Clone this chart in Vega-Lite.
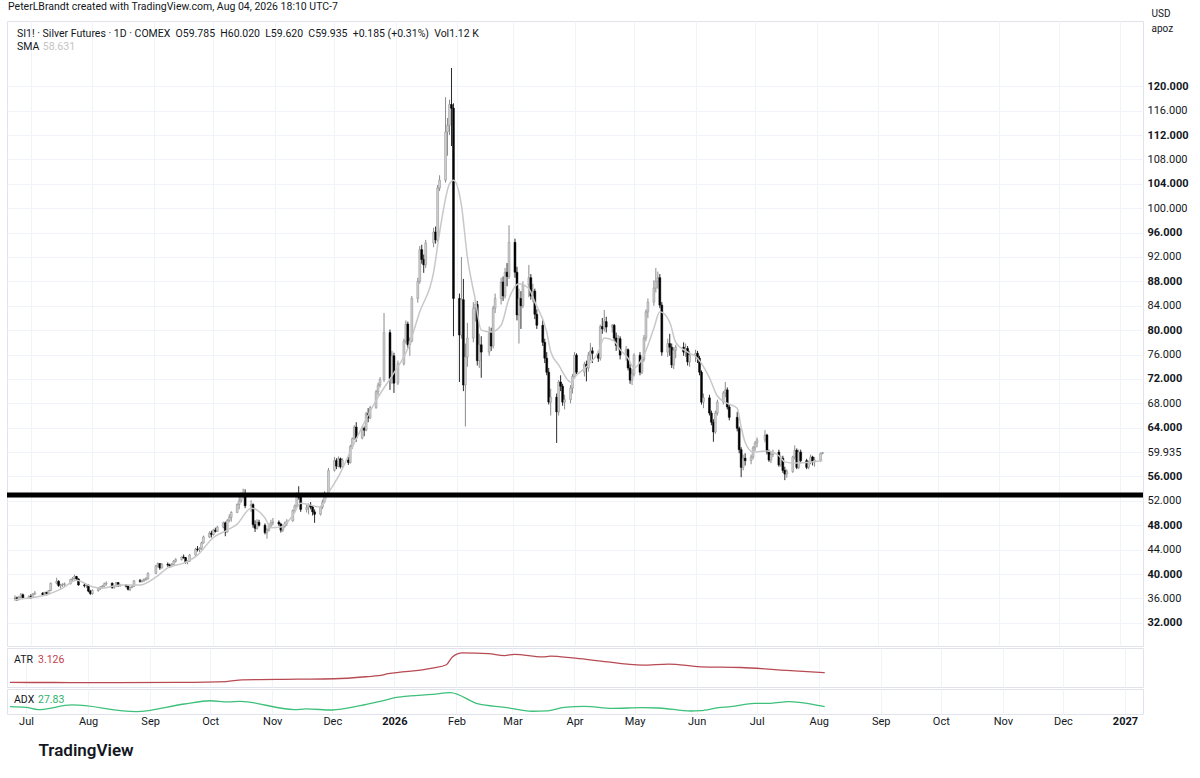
{
  "$schema": "https://vega.github.io/schema/vega-lite/v6.json",
  "background": "white",
  "padding": {"left": 4, "top": 2, "right": 0, "bottom": 0},
  "title": {
    "text": "PeterLBrandt created with TradingView.com, Aug 04, 2026 18:10 UTC-7",
    "anchor": "start",
    "fontSize": 10.5,
    "fontWeight": "normal",
    "color": "#131722",
    "offset": -5,
    "dx": 4
  },
  "datasets": {
    "candles": [
      {"d":"2025-06-23","o":36.0,"h":36.5,"l":35.6,"c":36.1},
      {"d":"2025-06-24","o":36.1,"h":36.3,"l":35.6,"c":35.8},
      {"d":"2025-06-25","o":35.8,"h":36.4,"l":35.7,"c":36.2},
      {"d":"2025-06-26","o":36.2,"h":36.9,"l":36.0,"c":36.6},
      {"d":"2025-06-27","o":36.6,"h":36.8,"l":35.9,"c":36.1},
      {"d":"2025-06-30","o":36.1,"h":36.5,"l":35.9,"c":36.3},
      {"d":"2025-07-01","o":36.3,"h":36.7,"l":35.9,"c":36.2},
      {"d":"2025-07-02","o":36.2,"h":36.9,"l":36.1,"c":36.7},
      {"d":"2025-07-03","o":36.7,"h":37.2,"l":36.6,"c":36.9},
      {"d":"2025-07-07","o":36.9,"h":37.0,"l":36.4,"c":36.6},
      {"d":"2025-07-08","o":36.6,"h":37.1,"l":36.5,"c":37.0},
      {"d":"2025-07-09","o":37.0,"h":37.1,"l":36.5,"c":36.8},
      {"d":"2025-07-10","o":36.8,"h":37.4,"l":36.7,"c":37.3},
      {"d":"2025-07-11","o":37.3,"h":38.6,"l":37.2,"c":38.5},
      {"d":"2025-07-14","o":38.5,"h":39.4,"l":38.3,"c":38.8},
      {"d":"2025-07-15","o":38.8,"h":39.0,"l":37.9,"c":38.1},
      {"d":"2025-07-16","o":38.1,"h":38.4,"l":37.6,"c":38.2},
      {"d":"2025-07-17","o":38.2,"h":38.5,"l":37.9,"c":38.3},
      {"d":"2025-07-18","o":38.3,"h":38.6,"l":38.0,"c":38.4},
      {"d":"2025-07-21","o":38.4,"h":39.2,"l":38.3,"c":39.1},
      {"d":"2025-07-22","o":39.1,"h":39.5,"l":38.9,"c":39.3},
      {"d":"2025-07-23","o":39.3,"h":39.9,"l":39.1,"c":39.6},
      {"d":"2025-07-24","o":39.6,"h":39.7,"l":38.9,"c":39.2},
      {"d":"2025-07-25","o":39.2,"h":39.3,"l":38.1,"c":38.2},
      {"d":"2025-07-28","o":38.2,"h":38.5,"l":37.8,"c":38.1},
      {"d":"2025-07-29","o":38.1,"h":38.4,"l":37.7,"c":38.2},
      {"d":"2025-07-30","o":38.2,"h":38.3,"l":37.0,"c":37.2},
      {"d":"2025-07-31","o":37.2,"h":37.4,"l":36.6,"c":36.8},
      {"d":"2025-08-01","o":36.8,"h":37.5,"l":36.6,"c":37.3},
      {"d":"2025-08-04","o":37.3,"h":37.7,"l":37.1,"c":37.6},
      {"d":"2025-08-05","o":37.6,"h":38.0,"l":37.4,"c":37.9},
      {"d":"2025-08-06","o":37.9,"h":38.2,"l":37.6,"c":38.0},
      {"d":"2025-08-07","o":38.0,"h":38.6,"l":37.9,"c":38.4},
      {"d":"2025-08-08","o":38.4,"h":38.8,"l":38.1,"c":38.5},
      {"d":"2025-08-11","o":38.5,"h":38.6,"l":37.6,"c":37.8},
      {"d":"2025-08-12","o":37.8,"h":38.1,"l":37.6,"c":38.0},
      {"d":"2025-08-13","o":38.0,"h":38.7,"l":37.9,"c":38.6},
      {"d":"2025-08-14","o":38.6,"h":38.7,"l":37.9,"c":38.1},
      {"d":"2025-08-15","o":38.1,"h":38.4,"l":37.9,"c":38.2},
      {"d":"2025-08-18","o":38.2,"h":38.3,"l":37.8,"c":38.0},
      {"d":"2025-08-19","o":38.0,"h":38.1,"l":37.3,"c":37.5},
      {"d":"2025-08-20","o":37.5,"h":37.9,"l":37.2,"c":37.8},
      {"d":"2025-08-21","o":37.8,"h":38.2,"l":37.7,"c":38.0},
      {"d":"2025-08-22","o":38.0,"h":39.0,"l":37.9,"c":38.9},
      {"d":"2025-08-25","o":38.9,"h":39.2,"l":38.6,"c":38.8},
      {"d":"2025-08-26","o":38.8,"h":39.1,"l":38.6,"c":38.9},
      {"d":"2025-08-27","o":38.9,"h":39.3,"l":38.7,"c":39.1},
      {"d":"2025-08-28","o":39.1,"h":39.5,"l":38.9,"c":39.2},
      {"d":"2025-08-29","o":39.2,"h":40.3,"l":39.1,"c":40.1},
      {"d":"2025-09-02","o":40.1,"h":41.5,"l":40.0,"c":41.3},
      {"d":"2025-09-03","o":41.3,"h":41.9,"l":41.1,"c":41.7},
      {"d":"2025-09-04","o":41.7,"h":41.8,"l":40.7,"c":41.0},
      {"d":"2025-09-05","o":41.0,"h":41.8,"l":40.9,"c":41.6},
      {"d":"2025-09-08","o":41.6,"h":41.9,"l":41.2,"c":41.5},
      {"d":"2025-09-09","o":41.5,"h":41.7,"l":41.0,"c":41.3},
      {"d":"2025-09-10","o":41.3,"h":41.8,"l":41.1,"c":41.6},
      {"d":"2025-09-11","o":41.6,"h":42.3,"l":41.4,"c":42.1},
      {"d":"2025-09-12","o":42.1,"h":42.6,"l":41.9,"c":42.4},
      {"d":"2025-09-15","o":42.4,"h":42.9,"l":42.2,"c":42.8},
      {"d":"2025-09-16","o":42.8,"h":43.2,"l":42.5,"c":42.7},
      {"d":"2025-09-17","o":42.7,"h":42.8,"l":41.7,"c":42.0},
      {"d":"2025-09-18","o":42.0,"h":42.3,"l":41.6,"c":42.1},
      {"d":"2025-09-19","o":42.1,"h":43.3,"l":42.0,"c":43.1},
      {"d":"2025-09-22","o":43.1,"h":44.3,"l":43.0,"c":44.1},
      {"d":"2025-09-23","o":44.1,"h":44.6,"l":43.7,"c":44.0},
      {"d":"2025-09-24","o":44.0,"h":44.4,"l":43.6,"c":44.2},
      {"d":"2025-09-25","o":44.2,"h":45.3,"l":44.0,"c":45.1},
      {"d":"2025-09-26","o":45.1,"h":46.3,"l":45.0,"c":46.1},
      {"d":"2025-09-29","o":46.1,"h":47.0,"l":45.9,"c":46.7},
      {"d":"2025-09-30","o":46.7,"h":47.1,"l":46.0,"c":46.5},
      {"d":"2025-10-01","o":46.5,"h":47.4,"l":46.3,"c":47.2},
      {"d":"2025-10-02","o":47.2,"h":47.6,"l":46.8,"c":47.0},
      {"d":"2025-10-03","o":47.0,"h":47.9,"l":46.9,"c":47.7},
      {"d":"2025-10-06","o":47.7,"h":48.6,"l":47.5,"c":48.4},
      {"d":"2025-10-07","o":48.4,"h":48.6,"l":46.2,"c":46.9},
      {"d":"2025-10-08","o":46.9,"h":49.0,"l":46.8,"c":48.8},
      {"d":"2025-10-09","o":48.8,"h":49.8,"l":48.5,"c":49.3},
      {"d":"2025-10-10","o":49.3,"h":50.3,"l":48.6,"c":50.1},
      {"d":"2025-10-13","o":50.1,"h":51.6,"l":50.0,"c":51.4},
      {"d":"2025-10-14","o":51.4,"h":52.9,"l":50.6,"c":52.0},
      {"d":"2025-10-15","o":52.0,"h":53.4,"l":51.7,"c":52.9},
      {"d":"2025-10-16","o":52.9,"h":54.0,"l":52.4,"c":53.2},
      {"d":"2025-10-17","o":53.2,"h":53.9,"l":50.8,"c":51.2},
      {"d":"2025-10-20","o":51.2,"h":52.1,"l":50.2,"c":51.4},
      {"d":"2025-10-21","o":51.4,"h":51.6,"l":47.6,"c":48.1},
      {"d":"2025-10-22","o":48.1,"h":48.8,"l":46.9,"c":47.5},
      {"d":"2025-10-23","o":47.5,"h":49.0,"l":47.3,"c":48.5},
      {"d":"2025-10-24","o":48.5,"h":48.9,"l":47.8,"c":48.0},
      {"d":"2025-10-27","o":48.0,"h":48.3,"l":46.5,"c":46.8},
      {"d":"2025-10-28","o":46.8,"h":47.5,"l":45.8,"c":47.2},
      {"d":"2025-10-29","o":47.2,"h":48.3,"l":47.0,"c":47.9},
      {"d":"2025-10-30","o":47.9,"h":48.9,"l":47.6,"c":48.4},
      {"d":"2025-10-31","o":48.4,"h":49.2,"l":48.0,"c":48.5},
      {"d":"2025-11-03","o":48.5,"h":48.8,"l":47.9,"c":48.2},
      {"d":"2025-11-04","o":48.2,"h":48.4,"l":46.8,"c":47.2},
      {"d":"2025-11-05","o":47.2,"h":48.1,"l":46.9,"c":47.8},
      {"d":"2025-11-06","o":47.8,"h":48.6,"l":47.6,"c":48.3},
      {"d":"2025-11-07","o":48.3,"h":49.0,"l":47.9,"c":48.7},
      {"d":"2025-11-10","o":48.7,"h":50.6,"l":48.6,"c":50.4},
      {"d":"2025-11-11","o":50.4,"h":51.4,"l":50.1,"c":51.2},
      {"d":"2025-11-12","o":51.2,"h":53.4,"l":51.0,"c":53.1},
      {"d":"2025-11-13","o":53.1,"h":54.4,"l":52.2,"c":52.6},
      {"d":"2025-11-14","o":52.6,"h":52.9,"l":50.2,"c":50.6},
      {"d":"2025-11-17","o":50.6,"h":51.4,"l":50.1,"c":50.9},
      {"d":"2025-11-18","o":50.9,"h":51.6,"l":49.8,"c":51.3},
      {"d":"2025-11-19","o":51.3,"h":51.8,"l":50.6,"c":51.0},
      {"d":"2025-11-20","o":51.0,"h":51.3,"l":49.6,"c":50.2},
      {"d":"2025-11-21","o":50.2,"h":50.6,"l":48.4,"c":49.8},
      {"d":"2025-11-24","o":49.8,"h":51.2,"l":49.6,"c":51.0},
      {"d":"2025-11-25","o":51.0,"h":52.2,"l":50.7,"c":51.8},
      {"d":"2025-11-26","o":51.8,"h":53.6,"l":51.6,"c":53.3},
      {"d":"2025-11-28","o":53.3,"h":57.4,"l":53.1,"c":57.0},
      {"d":"2025-12-01","o":57.0,"h":59.2,"l":56.8,"c":58.6},
      {"d":"2025-12-02","o":58.6,"h":59.0,"l":57.2,"c":57.7},
      {"d":"2025-12-03","o":57.7,"h":59.3,"l":57.5,"c":58.9},
      {"d":"2025-12-04","o":58.9,"h":59.1,"l":57.3,"c":57.6},
      {"d":"2025-12-05","o":57.6,"h":59.0,"l":57.4,"c":58.7},
      {"d":"2025-12-08","o":58.7,"h":59.2,"l":57.9,"c":58.3},
      {"d":"2025-12-09","o":58.3,"h":61.2,"l":58.1,"c":60.9},
      {"d":"2025-12-10","o":60.9,"h":62.4,"l":60.5,"c":62.2},
      {"d":"2025-12-11","o":62.2,"h":64.4,"l":62.0,"c":64.1},
      {"d":"2025-12-12","o":64.1,"h":64.9,"l":61.7,"c":62.3},
      {"d":"2025-12-15","o":62.3,"h":64.3,"l":62.1,"c":63.9},
      {"d":"2025-12-16","o":63.9,"h":64.2,"l":62.6,"c":63.6},
      {"d":"2025-12-17","o":63.6,"h":66.6,"l":63.4,"c":66.3},
      {"d":"2025-12-18","o":66.3,"h":67.2,"l":64.9,"c":65.6},
      {"d":"2025-12-19","o":65.6,"h":67.6,"l":65.4,"c":67.3},
      {"d":"2025-12-22","o":67.3,"h":70.2,"l":67.1,"c":69.9},
      {"d":"2025-12-23","o":69.9,"h":71.4,"l":69.3,"c":71.0},
      {"d":"2025-12-24","o":71.0,"h":72.3,"l":70.6,"c":71.9},
      {"d":"2025-12-26","o":71.9,"h":82.8,"l":71.5,"c":79.6},
      {"d":"2025-12-29","o":79.6,"h":80.1,"l":70.2,"c":72.0},
      {"d":"2025-12-30","o":72.0,"h":76.6,"l":71.2,"c":75.8},
      {"d":"2025-12-31","o":75.8,"h":76.3,"l":69.7,"c":71.3},
      {"d":"2026-01-02","o":71.3,"h":75.0,"l":71.0,"c":74.5},
      {"d":"2026-01-05","o":74.5,"h":78.6,"l":74.2,"c":78.2},
      {"d":"2026-01-06","o":78.2,"h":81.6,"l":77.8,"c":81.0},
      {"d":"2026-01-07","o":81.0,"h":81.4,"l":77.0,"c":77.6},
      {"d":"2026-01-08","o":77.6,"h":78.8,"l":75.8,"c":78.2},
      {"d":"2026-01-09","o":78.2,"h":85.6,"l":78.0,"c":85.2},
      {"d":"2026-01-12","o":85.2,"h":88.6,"l":84.5,"c":88.0},
      {"d":"2026-01-13","o":88.0,"h":93.8,"l":87.6,"c":93.2},
      {"d":"2026-01-14","o":93.2,"h":94.0,"l":90.9,"c":91.6},
      {"d":"2026-01-15","o":91.6,"h":92.4,"l":89.4,"c":90.7},
      {"d":"2026-01-16","o":90.7,"h":94.8,"l":90.2,"c":94.3},
      {"d":"2026-01-20","o":94.3,"h":96.8,"l":93.6,"c":96.1},
      {"d":"2026-01-21","o":96.1,"h":97.0,"l":94.2,"c":94.8},
      {"d":"2026-01-22","o":94.8,"h":103.8,"l":94.5,"c":103.3},
      {"d":"2026-01-23","o":103.3,"h":105.4,"l":102.8,"c":104.6},
      {"d":"2026-01-26","o":104.6,"h":118.2,"l":104.2,"c":112.5},
      {"d":"2026-01-27","o":112.5,"h":114.8,"l":108.6,"c":113.6},
      {"d":"2026-01-28","o":113.6,"h":117.8,"l":112.0,"c":117.0},
      {"d":"2026-01-29","o":117.0,"h":123.0,"l":110.2,"c":116.4},
      {"d":"2026-01-30","o":116.4,"h":117.2,"l":79.0,"c":85.2},
      {"d":"2026-02-02","o":85.2,"h":86.0,"l":71.5,"c":79.2},
      {"d":"2026-02-03","o":79.2,"h":92.0,"l":78.6,"c":85.0},
      {"d":"2026-02-04","o":85.0,"h":88.4,"l":70.0,"c":71.0},
      {"d":"2026-02-05","o":71.0,"h":77.8,"l":64.2,"c":75.6},
      {"d":"2026-02-06","o":75.6,"h":81.2,"l":74.0,"c":78.7},
      {"d":"2026-02-09","o":78.7,"h":84.6,"l":78.0,"c":83.6},
      {"d":"2026-02-10","o":83.6,"h":85.0,"l":81.4,"c":84.2},
      {"d":"2026-02-11","o":84.2,"h":84.8,"l":74.2,"c":75.0},
      {"d":"2026-02-12","o":75.0,"h":79.4,"l":73.8,"c":77.6},
      {"d":"2026-02-13","o":77.6,"h":79.0,"l":72.2,"c":76.4},
      {"d":"2026-02-17","o":76.4,"h":80.6,"l":75.8,"c":79.6},
      {"d":"2026-02-18","o":79.6,"h":80.4,"l":76.6,"c":77.4},
      {"d":"2026-02-19","o":77.4,"h":84.0,"l":77.0,"c":83.6},
      {"d":"2026-02-20","o":83.6,"h":86.0,"l":82.8,"c":85.2},
      {"d":"2026-02-23","o":85.2,"h":88.6,"l":84.2,"c":87.9},
      {"d":"2026-02-24","o":87.9,"h":88.8,"l":84.8,"c":85.6},
      {"d":"2026-02-25","o":85.6,"h":90.2,"l":85.2,"c":89.5},
      {"d":"2026-02-26","o":89.5,"h":91.0,"l":87.2,"c":88.8},
      {"d":"2026-02-27","o":88.8,"h":97.2,"l":88.4,"c":94.4},
      {"d":"2026-03-02","o":94.4,"h":95.0,"l":88.6,"c":89.5},
      {"d":"2026-03-03","o":89.5,"h":90.4,"l":81.6,"c":82.5},
      {"d":"2026-03-04","o":82.5,"h":86.8,"l":77.8,"c":85.2},
      {"d":"2026-03-05","o":85.2,"h":86.4,"l":80.2,"c":84.0},
      {"d":"2026-03-06","o":84.0,"h":88.0,"l":83.6,"c":87.4},
      {"d":"2026-03-09","o":87.4,"h":90.7,"l":85.4,"c":88.6},
      {"d":"2026-03-10","o":88.6,"h":89.2,"l":85.0,"c":85.6},
      {"d":"2026-03-11","o":85.6,"h":87.6,"l":84.6,"c":86.4},
      {"d":"2026-03-12","o":86.4,"h":86.8,"l":81.8,"c":82.6},
      {"d":"2026-03-13","o":82.6,"h":83.4,"l":80.2,"c":80.8},
      {"d":"2026-03-16","o":80.8,"h":81.6,"l":77.4,"c":78.0},
      {"d":"2026-03-17","o":78.0,"h":78.6,"l":74.6,"c":75.4},
      {"d":"2026-03-18","o":75.4,"h":76.4,"l":72.6,"c":73.1},
      {"d":"2026-03-19","o":73.1,"h":73.8,"l":67.8,"c":68.2},
      {"d":"2026-03-20","o":68.2,"h":70.4,"l":66.0,"c":69.0},
      {"d":"2026-03-23","o":69.0,"h":69.6,"l":61.5,"c":66.6},
      {"d":"2026-03-24","o":66.6,"h":71.8,"l":66.0,"c":71.5},
      {"d":"2026-03-25","o":71.5,"h":72.6,"l":70.0,"c":70.8},
      {"d":"2026-03-26","o":70.8,"h":71.2,"l":67.6,"c":68.2},
      {"d":"2026-03-27","o":68.2,"h":69.4,"l":67.0,"c":68.6},
      {"d":"2026-03-30","o":68.6,"h":71.0,"l":68.0,"c":70.5},
      {"d":"2026-03-31","o":70.5,"h":72.8,"l":69.6,"c":72.4},
      {"d":"2026-04-01","o":72.4,"h":76.4,"l":72.0,"c":75.9},
      {"d":"2026-04-02","o":75.9,"h":76.2,"l":72.8,"c":73.1},
      {"d":"2026-04-06","o":73.1,"h":74.8,"l":72.4,"c":74.4},
      {"d":"2026-04-07","o":74.4,"h":75.0,"l":71.6,"c":73.8},
      {"d":"2026-04-08","o":73.8,"h":76.4,"l":73.2,"c":75.9},
      {"d":"2026-04-09","o":75.9,"h":77.9,"l":75.0,"c":76.6},
      {"d":"2026-04-10","o":76.6,"h":77.2,"l":74.6,"c":76.2},
      {"d":"2026-04-13","o":76.2,"h":76.6,"l":74.8,"c":75.4},
      {"d":"2026-04-14","o":75.4,"h":80.9,"l":75.0,"c":80.6},
      {"d":"2026-04-15","o":80.6,"h":82.0,"l":79.4,"c":80.2},
      {"d":"2026-04-16","o":80.2,"h":83.3,"l":79.8,"c":81.4},
      {"d":"2026-04-17","o":81.4,"h":82.2,"l":79.6,"c":80.5},
      {"d":"2026-04-20","o":80.5,"h":81.0,"l":79.6,"c":80.8},
      {"d":"2026-04-21","o":80.8,"h":81.0,"l":78.2,"c":78.7},
      {"d":"2026-04-22","o":78.7,"h":79.6,"l":76.6,"c":77.5},
      {"d":"2026-04-23","o":77.5,"h":79.2,"l":76.8,"c":78.6},
      {"d":"2026-04-24","o":78.6,"h":79.0,"l":75.2,"c":75.9},
      {"d":"2026-04-27","o":75.9,"h":77.4,"l":75.0,"c":76.8},
      {"d":"2026-04-28","o":76.8,"h":77.0,"l":73.4,"c":73.8},
      {"d":"2026-04-29","o":73.8,"h":74.4,"l":71.2,"c":71.8},
      {"d":"2026-04-30","o":71.8,"h":73.6,"l":71.0,"c":72.8},
      {"d":"2026-05-01","o":72.8,"h":76.2,"l":72.4,"c":75.9},
      {"d":"2026-05-04","o":75.9,"h":76.4,"l":72.6,"c":73.1},
      {"d":"2026-05-05","o":73.1,"h":75.6,"l":72.8,"c":75.2},
      {"d":"2026-05-06","o":75.2,"h":79.2,"l":74.8,"c":78.7},
      {"d":"2026-05-07","o":78.7,"h":83.4,"l":78.2,"c":83.0},
      {"d":"2026-05-08","o":83.0,"h":85.2,"l":82.0,"c":84.6},
      {"d":"2026-05-11","o":84.6,"h":88.2,"l":84.0,"c":86.9},
      {"d":"2026-05-12","o":86.9,"h":90.2,"l":86.2,"c":88.0},
      {"d":"2026-05-13","o":88.0,"h":89.6,"l":86.8,"c":88.6},
      {"d":"2026-05-14","o":88.6,"h":89.2,"l":83.6,"c":84.1},
      {"d":"2026-05-15","o":84.1,"h":84.6,"l":75.8,"c":76.4},
      {"d":"2026-05-18","o":76.4,"h":78.6,"l":75.6,"c":77.8},
      {"d":"2026-05-19","o":77.8,"h":79.4,"l":75.8,"c":77.2},
      {"d":"2026-05-20","o":77.2,"h":77.8,"l":73.8,"c":74.3},
      {"d":"2026-05-21","o":74.3,"h":77.2,"l":73.6,"c":76.7},
      {"d":"2026-05-22","o":76.7,"h":77.6,"l":75.4,"c":77.2},
      {"d":"2026-05-26","o":77.2,"h":78.0,"l":75.8,"c":76.4},
      {"d":"2026-05-27","o":76.4,"h":77.8,"l":75.6,"c":77.0},
      {"d":"2026-05-28","o":77.0,"h":77.4,"l":74.2,"c":74.8},
      {"d":"2026-05-29","o":74.8,"h":76.6,"l":74.0,"c":75.9},
      {"d":"2026-06-01","o":75.9,"h":76.8,"l":74.8,"c":76.2},
      {"d":"2026-06-02","o":76.2,"h":76.6,"l":74.6,"c":75.4},
      {"d":"2026-06-03","o":75.4,"h":75.8,"l":72.6,"c":73.1},
      {"d":"2026-06-04","o":73.1,"h":73.4,"l":67.8,"c":68.2},
      {"d":"2026-06-05","o":68.2,"h":69.6,"l":67.2,"c":68.9},
      {"d":"2026-06-08","o":68.9,"h":69.4,"l":66.0,"c":66.4},
      {"d":"2026-06-09","o":66.4,"h":66.8,"l":64.4,"c":64.9},
      {"d":"2026-06-10","o":64.9,"h":65.4,"l":61.7,"c":63.3},
      {"d":"2026-06-11","o":63.3,"h":66.8,"l":63.0,"c":66.4},
      {"d":"2026-06-12","o":66.4,"h":68.6,"l":66.0,"c":68.2},
      {"d":"2026-06-15","o":68.2,"h":70.0,"l":67.8,"c":69.7},
      {"d":"2026-06-16","o":69.7,"h":71.5,"l":69.0,"c":70.2},
      {"d":"2026-06-17","o":70.2,"h":70.6,"l":67.0,"c":67.4},
      {"d":"2026-06-18","o":67.4,"h":67.8,"l":65.2,"c":65.7},
      {"d":"2026-06-22","o":65.7,"h":66.6,"l":63.4,"c":63.9},
      {"d":"2026-06-23","o":63.9,"h":64.2,"l":59.8,"c":60.4},
      {"d":"2026-06-24","o":60.4,"h":60.8,"l":55.9,"c":57.5},
      {"d":"2026-06-25","o":57.5,"h":59.6,"l":57.0,"c":59.0},
      {"d":"2026-06-26","o":59.0,"h":59.8,"l":57.8,"c":58.6},
      {"d":"2026-06-29","o":58.6,"h":59.6,"l":58.0,"c":59.2},
      {"d":"2026-06-30","o":59.2,"h":61.0,"l":58.8,"c":60.7},
      {"d":"2026-07-01","o":60.7,"h":61.8,"l":60.2,"c":61.5},
      {"d":"2026-07-02","o":61.5,"h":62.4,"l":60.8,"c":62.0},
      {"d":"2026-07-06","o":62.0,"h":63.6,"l":61.6,"c":62.8},
      {"d":"2026-07-07","o":62.8,"h":63.0,"l":59.6,"c":60.0},
      {"d":"2026-07-08","o":60.0,"h":60.4,"l":58.4,"c":58.7},
      {"d":"2026-07-09","o":58.7,"h":60.2,"l":58.2,"c":59.6},
      {"d":"2026-07-10","o":59.6,"h":60.4,"l":59.2,"c":60.0},
      {"d":"2026-07-13","o":60.0,"h":60.4,"l":57.6,"c":57.9},
      {"d":"2026-07-14","o":57.9,"h":59.4,"l":57.6,"c":59.0},
      {"d":"2026-07-15","o":59.0,"h":59.4,"l":56.6,"c":57.0},
      {"d":"2026-07-16","o":57.0,"h":57.6,"l":55.4,"c":56.4},
      {"d":"2026-07-17","o":56.4,"h":57.2,"l":55.8,"c":56.8},
      {"d":"2026-07-20","o":56.8,"h":59.4,"l":56.6,"c":59.2},
      {"d":"2026-07-21","o":59.2,"h":61.1,"l":58.8,"c":60.3},
      {"d":"2026-07-22","o":60.3,"h":60.6,"l":57.2,"c":57.5},
      {"d":"2026-07-23","o":57.5,"h":60.4,"l":57.2,"c":60.0},
      {"d":"2026-07-24","o":60.0,"h":60.4,"l":58.2,"c":58.6},
      {"d":"2026-07-27","o":58.6,"h":58.9,"l":57.2,"c":57.5},
      {"d":"2026-07-28","o":57.5,"h":58.6,"l":57.2,"c":58.3},
      {"d":"2026-07-29","o":58.3,"h":59.6,"l":58.0,"c":59.2},
      {"d":"2026-07-30","o":59.2,"h":59.4,"l":57.8,"c":58.4},
      {"d":"2026-07-31","o":58.4,"h":59.2,"l":57.6,"c":58.7},
      {"d":"2026-08-03","o":58.7,"h":59.9,"l":58.4,"c":59.78},
      {"d":"2026-08-04","o":59.785,"h":60.02,"l":59.62,"c":59.935}
    ],
    "sma": [
      {"d":"2025-06-23","v":35.8},{"d":"2025-07-01","v":36.1},{"d":"2025-07-09","v":36.6},
      {"d":"2025-07-17","v":37.7},{"d":"2025-07-24","v":39.0},{"d":"2025-08-01","v":37.9},
      {"d":"2025-08-06","v":37.7},{"d":"2025-08-15","v":38.2},{"d":"2025-08-25","v":38.2},
      {"d":"2025-09-02","v":39.5},{"d":"2025-09-08","v":41.0},{"d":"2025-09-16","v":41.8},
      {"d":"2025-09-23","v":43.1},{"d":"2025-10-01","v":46.0},{"d":"2025-10-08","v":47.2},
      {"d":"2025-10-13","v":48.2},{"d":"2025-10-20","v":50.8},{"d":"2025-10-27","v":49.2},
      {"d":"2025-10-30","v":47.6},{"d":"2025-11-04","v":47.7},{"d":"2025-11-10","v":49.6},
      {"d":"2025-11-14","v":51.6},{"d":"2025-11-24","v":51.0},{"d":"2025-11-28","v":53.3},
      {"d":"2025-12-04","v":56.6},{"d":"2025-12-10","v":60.8},{"d":"2025-12-16","v":64.8},
      {"d":"2025-12-23","v":69.0},{"d":"2025-12-31","v":73.0},{"d":"2026-01-07","v":77.0},
      {"d":"2026-01-13","v":83.0},{"d":"2026-01-20","v":89.5},{"d":"2026-01-23","v":96.0},
      {"d":"2026-01-28","v":104.0},{"d":"2026-01-30","v":104.6},{"d":"2026-02-03","v":100.5},
      {"d":"2026-02-06","v":92.0},{"d":"2026-02-10","v":85.0},{"d":"2026-02-13","v":80.0},
      {"d":"2026-02-18","v":79.7},{"d":"2026-02-23","v":80.8},{"d":"2026-02-27","v":85.2},
      {"d":"2026-03-04","v":87.6},{"d":"2026-03-09","v":86.8},{"d":"2026-03-12","v":84.6},
      {"d":"2026-03-18","v":79.7},{"d":"2026-03-20","v":76.5},{"d":"2026-03-24","v":74.3},
      {"d":"2026-03-30","v":71.5},{"d":"2026-04-02","v":72.6},{"d":"2026-04-08","v":74.3},
      {"d":"2026-04-13","v":76.4},{"d":"2026-04-16","v":78.7},{"d":"2026-04-21","v":78.2},
      {"d":"2026-04-24","v":76.8},{"d":"2026-04-28","v":75.4},{"d":"2026-05-01","v":73.8},
      {"d":"2026-05-06","v":75.9},{"d":"2026-05-11","v":80.3},{"d":"2026-05-14","v":83.0},
      {"d":"2026-05-19","v":81.3},{"d":"2026-05-22","v":78.0},{"d":"2026-05-28","v":76.4},
      {"d":"2026-06-02","v":75.4},{"d":"2026-06-08","v":72.2},{"d":"2026-06-12","v":69.2},
      {"d":"2026-06-17","v":68.0},{"d":"2026-06-22","v":67.2},{"d":"2026-06-24","v":64.1},
      {"d":"2026-06-26","v":61.6},{"d":"2026-06-30","v":60.0},{"d":"2026-07-07","v":60.2},
      {"d":"2026-07-13","v":59.4},{"d":"2026-07-16","v":58.4},{"d":"2026-07-21","v":58.2},
      {"d":"2026-07-27","v":58.3},{"d":"2026-08-04","v":58.63}
    ],
    "atr": [
      {"d":"2025-06-23","v":0.78},{"d":"2025-07-15","v":0.76},{"d":"2025-08-15","v":0.74},
      {"d":"2025-09-15","v":0.8},{"d":"2025-10-09","v":0.99},{"d":"2025-10-17","v":1.41},
      {"d":"2025-11-14","v":1.55},{"d":"2025-12-02","v":1.66},{"d":"2025-12-19","v":2.19},
      {"d":"2025-12-24","v":2.4},{"d":"2025-12-29","v":2.86},{"d":"2026-01-20","v":4.2},
      {"d":"2026-01-27","v":5.01},{"d":"2026-01-30","v":6.88},{"d":"2026-02-04","v":7.83},
      {"d":"2026-02-17","v":7.66},{"d":"2026-02-25","v":7.19},{"d":"2026-03-02","v":7.51},
      {"d":"2026-03-16","v":6.88},{"d":"2026-03-20","v":7.05},{"d":"2026-03-31","v":6.63},
      {"d":"2026-04-13","v":5.95},{"d":"2026-05-05","v":4.92},{"d":"2026-05-18","v":5.16},
      {"d":"2026-06-03","v":4.52},{"d":"2026-06-23","v":4.35},{"d":"2026-07-20","v":3.54},
      {"d":"2026-08-04","v":3.126}
    ],
    "adx": [
      {"d":"2025-06-23","v":28.0},{"d":"2025-07-01","v":27.0},{"d":"2025-07-07","v":23.7},
      {"d":"2025-07-24","v":30.3},{"d":"2025-08-25","v":20.8},{"d":"2025-09-18","v":31.7},
      {"d":"2025-10-01","v":36.3},{"d":"2025-10-10","v":34.8},{"d":"2025-10-16","v":35.4},
      {"d":"2025-11-12","v":23.7},{"d":"2025-11-18","v":24.6},{"d":"2025-12-01","v":23.1},
      {"d":"2025-12-15","v":29.3},{"d":"2025-12-26","v":36.3},{"d":"2026-01-02","v":41.0},
      {"d":"2026-01-09","v":43.3},{"d":"2026-01-20","v":45.3},{"d":"2026-01-29","v":48.0},
      {"d":"2026-02-12","v":31.7},{"d":"2026-02-25","v":27.0},{"d":"2026-03-11","v":21.3},
      {"d":"2026-03-18","v":21.8},{"d":"2026-03-27","v":27.0},{"d":"2026-04-06","v":28.4},
      {"d":"2026-04-20","v":25.5},{"d":"2026-05-05","v":26.4},{"d":"2026-05-13","v":26.0},
      {"d":"2026-05-29","v":21.7},{"d":"2026-06-03","v":22.1},{"d":"2026-06-12","v":26.4},
      {"d":"2026-06-18","v":27.8},{"d":"2026-06-30","v":32.7},{"d":"2026-07-08","v":32.7},
      {"d":"2026-07-17","v":35.0},{"d":"2026-07-29","v":31.3},{"d":"2026-08-04","v":27.83}
    ],
    "support": [{"level": 52.95}]
  },
  "spacing": 0,
  "vconcat": [
    {
      "width": 1136,
      "height": 625,
      "layer": [
        {
          "data": {"name": "candles"},
          "mark": {"type": "rule", "strokeWidth": 1},
          "encoding": {
            "x": {
              "field": "d", "type": "temporal",
              "scale": {"type": "utc", "domain": ["2025-06-21T12:00:00Z", "2027-01-10T00:00:00Z"]},
              "axis": {"labels": false, "ticks": false, "domain": false, "grid": true, "title": null, "tickCount": {"interval": "month", "step": 1}}
            },
            "y": {
              "field": "l", "type": "quantitative",
              "scale": {"domain": [28.2, 130.7], "nice": false, "zero": false},
              "axis": {
                "orient": "right",
                "values": [32, 36, 40, 44, 48, 52, 56, 59.935, 64, 68, 72, 76, 80, 84, 88, 92, 96, 100, 104, 108, 112, 116, 120],
                "tickCount": 40,
                "format": ".3f",
                "labelFontSize": 11,
                "labelFontWeight": {"condition": {"test": "datum.value % 8 == 0", "value": 700}, "value": 400},
                "labelPadding": 4,
                "labelOverlap": false,
                "ticks": false,
                "domain": false,
                "grid": true,
                "title": ["USD", "apoz"],
                "titleAngle": 0,
                "titleAlign": "left",
                "titleBaseline": "top",
                "titleFontSize": 10,
                "titleFontWeight": "normal",
                "titleLineHeight": 15,
                "titleX": 8,
                "titleY": -13
              }
            },
            "y2": {"field": "h"},
            "color": {"condition": {"test": "datum.c >= datum.o", "value": "#8c8c8c"}, "value": "#2a2a2a"}
          }
        },
        {
          "data": {"name": "candles"},
          "mark": {"type": "bar", "width": 1.9, "strokeWidth": 0.5},
          "encoding": {
            "x": {"field": "d", "type": "temporal"},
            "y": {"field": "o", "type": "quantitative"},
            "y2": {"field": "c"},
            "fill": {"condition": {"test": "datum.c >= datum.o", "value": "#d0d0d0"}, "value": "#000000"},
            "stroke": {"condition": {"test": "datum.c >= datum.o", "value": "#8c8c8c"}, "value": "#000000"}
          }
        },
        {
          "data": {"name": "sma"},
          "mark": {"type": "line", "color": "#c8c8c8", "strokeWidth": 1.5, "interpolate": "monotone"},
          "encoding": {
            "x": {"field": "d", "type": "temporal"},
            "y": {"field": "v", "type": "quantitative"}
          }
        },
        {
          "data": {"name": "support"},
          "mark": {"type": "rule", "color": "#000000", "strokeWidth": 5},
          "encoding": {
            "y": {"field": "level", "type": "quantitative"}
          }
        },
        {
          "data": {"values": [{}]},
          "mark": {"type": "text", "align": "left", "baseline": "middle", "fontSize": 10.5, "color": "#131722"},
          "encoding": {
            "x": {"datum": {"year": 2025, "month": 6, "date": 24, "utc": true}, "type": "temporal"},
            "y": {"datum": 128.57, "type": "quantitative"},
            "text": {"value": "SI1! · Silver Futures · 1D · COMEX \u00a0O59.785 \u00a0H60.020 \u00a0L59.620 \u00a0C59.935 \u00a0+0.185 (+0.31%) \u00a0Vol1.12 K"}
          }
        },
        {
          "data": {"values": [{}]},
          "mark": {"type": "text", "align": "left", "baseline": "middle", "fontSize": 10.5, "color": "#131722"},
          "encoding": {
            "x": {"datum": {"year": 2025, "month": 6, "date": 24, "utc": true}, "type": "temporal"},
            "y": {"datum": 126.44, "type": "quantitative"},
            "text": {"value": "SMA"}
          }
        },
        {
          "data": {"values": [{}]},
          "mark": {"type": "text", "align": "left", "baseline": "middle", "fontSize": 10.5, "color": "#c4c4c4"},
          "encoding": {
            "x": {"datum": {"year": 2025, "month": 7, "date": 7, "utc": true}, "type": "temporal"},
            "y": {"datum": 126.44, "type": "quantitative"},
            "text": {"value": "58.631"}
          }
        }
      ]
    },
    {
      "width": 1136,
      "height": 39,
      "layer": [
        {
          "data": {"name": "atr"},
          "mark": {"type": "line", "color": "#b84a53", "strokeWidth": 1.3, "interpolate": "monotone"},
          "encoding": {
            "x": {
              "field": "d", "type": "temporal",
              "scale": {"type": "utc", "domain": ["2025-06-21T12:00:00Z", "2027-01-10T00:00:00Z"]},
              "axis": {"labels": false, "ticks": false, "domain": false, "grid": true, "title": null, "tickCount": {"interval": "month", "step": 1}}
            },
            "y": {"field": "v", "type": "quantitative", "scale": {"domain": [-0.31, 9.01], "nice": false, "zero": false}, "axis": null}
          }
        },
        {
          "data": {"values": [{}]},
          "mark": {"type": "text", "align": "left", "baseline": "middle", "fontSize": 10.5, "color": "#131722"},
          "encoding": {
            "x": {"datum": {"year": 2025, "month": 6, "date": 25, "utc": true}, "type": "temporal"},
            "y": {"datum": 6.07, "type": "quantitative"},
            "text": {"value": "ATR"}
          }
        },
        {
          "data": {"values": [{}]},
          "mark": {"type": "text", "align": "left", "baseline": "middle", "fontSize": 10.5, "color": "#c2414b"},
          "encoding": {
            "x": {"datum": {"year": 2025, "month": 7, "date": 7, "utc": true}, "type": "temporal"},
            "y": {"datum": 6.07, "type": "quantitative"},
            "text": {"value": "3.126"}
          }
        }
      ]
    },
    {
      "width": 1136,
      "height": 25,
      "layer": [
        {
          "data": {"name": "adx"},
          "mark": {"type": "line", "color": "#3cc07a", "strokeWidth": 1.3, "interpolate": "monotone"},
          "encoding": {
            "x": {
              "field": "d", "type": "temporal",
              "scale": {"type": "utc", "domain": ["2025-06-21T12:00:00Z", "2027-01-10T00:00:00Z"]},
              "axis": {
                "grid": true,
                "ticks": false,
                "domain": false,
                "tickCount": {"interval": "month", "step": 1},
                "labelExpr": "utcmonth(datum.value) == 0 ? utcFormat(datum.value, '%Y') : utcFormat(datum.value, '%b')",
                "labelFontWeight": {"condition": {"test": "utcmonth(datum.value) == 0", "value": "bold"}, "value": "normal"},
                "labelFontSize": 11,
                "labelPadding": 1,
                "labelAlign": "center",
                "labelFlush": false,
                "labelOverlap": false,
                "title": "TradingView",
                "titleAnchor": "start",
                "titleAlign": "left",
                "titleFontSize": 17,
                "titleFontWeight": 600,
                "titleX": 31,
                "titlePadding": 16
              }
            },
            "y": {"field": "v", "type": "quantitative", "scale": {"domain": [17.4, 53.1], "nice": false, "zero": false}, "axis": null}
          }
        },
        {
          "data": {"values": [{}]},
          "mark": {"type": "text", "align": "left", "baseline": "middle", "fontSize": 10.5, "color": "#131722"},
          "encoding": {
            "x": {"datum": {"year": 2025, "month": 6, "date": 25, "utc": true}, "type": "temporal"},
            "y": {"datum": 37.4, "type": "quantitative"},
            "text": {"value": "ADX"}
          }
        },
        {
          "data": {"values": [{}]},
          "mark": {"type": "text", "align": "left", "baseline": "middle", "fontSize": 10.5, "color": "#2fb36c"},
          "encoding": {
            "x": {"datum": {"year": 2025, "month": 7, "date": 7, "utc": true}, "type": "temporal"},
            "y": {"datum": 37.4, "type": "quantitative"},
            "text": {"value": "27.83"}
          }
        }
      ]
    }
  ],
  "config": {
    "font": "Roboto",
    "view": {"stroke": "#e0e3eb"},
    "axis": {"gridColor": "#f0f3fa", "labelColor": "#131722", "titleColor": "#131722", "labelFont": "Roboto", "titleFont": "Roboto", "labelOverlap": false},
    "title": {"font": "Roboto"},
    "text": {"font": "Roboto"}
  }
}
